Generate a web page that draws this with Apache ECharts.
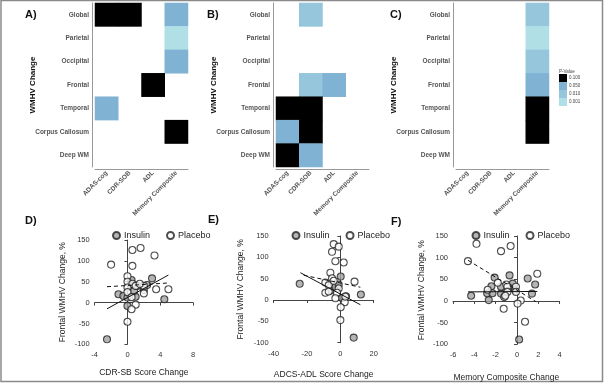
<!DOCTYPE html>
<html>
<head>
<meta charset="utf-8">
<script src="https://cdn.jsdelivr.net/npm/echarts@6/dist/echarts.min.js"></script>
<style>
  html, body { margin: 0; padding: 0; background: #fff; }
  #chart { width: 604px; height: 384px; }
</style>
</head>
<body>
<div id="chart"></div>
<script>
// heatmap categories
const measures = ['ADAS-cog', 'CDR-SOB', 'ADL', 'Memory Composite']
const regions = ['Global', 'Parietal', 'Occipital', 'Frontal', 'Temporal', 'Corpus Callosum', 'Deep WM']
const pLevels = [0.001, 0.010, 0.050, 0.100]

// significant cells per panel: [measure, region, p]
const cellsA = [
  ['ADAS-cog', 'Global', 0.1], ['CDR-SOB', 'Global', 0.1], ['Memory Composite', 'Global', 0.05],
  ['Memory Composite', 'Parietal', 0.001], ['Memory Composite', 'Occipital', 0.05],
  ['ADL', 'Frontal', 0.1], ['ADAS-cog', 'Temporal', 0.05], ['Memory Composite', 'Corpus Callosum', 0.1]
]
const cellsB = [
  ['CDR-SOB', 'Global', 0.01], ['CDR-SOB', 'Frontal', 0.01], ['ADL', 'Frontal', 0.05],
  ['ADAS-cog', 'Temporal', 0.1], ['CDR-SOB', 'Temporal', 0.1],
  ['ADAS-cog', 'Corpus Callosum', 0.05], ['CDR-SOB', 'Corpus Callosum', 0.1],
  ['ADAS-cog', 'Deep WM', 0.1], ['CDR-SOB', 'Deep WM', 0.05]
]
const cellsC = [
  ['Memory Composite', 'Global', 0.01], ['Memory Composite', 'Parietal', 0.001],
  ['Memory Composite', 'Occipital', 0.01], ['Memory Composite', 'Frontal', 0.05],
  ['Memory Composite', 'Temporal', 0.1], ['Memory Composite', 'Corpus Callosum', 0.1]
]

// scatter panels: [score change, frontal WMHV change %]
const cdrInsulin = [[-2.5, -88], [-1.1, 20], [-0.5, 16], [0, 12], [0, -8], [0.5, 54], [0.4, 44], [1, 14],
  [0.8, 28], [1.2, 40], [2, 30], [2.4, 42], [3, 58], [4.5, 8]]
const cdrPlacebo = [[0.6, 126], [1.6, 131], [3.3, 113], [-2, 91], [0.6, 88], [0, 63], [0, 50], [0.6, 45],
  [1, 40], [2, 40], [0, 36], [3.5, 32], [5, 32], [0, 25], [2, 22], [0.5, 13], [1, -5], [0.5, -16], [0, -46], [1.5, 45]]
const cdrFitInsulin = [[-2.5, -15], [5, 66]]
const cdrFitPlacebo = [[-2.5, 38], [5, 47]]

const adlInsulin = [[-24.4, 38], [8, -88], [12.3, 13], [0.2, 55], [-4, 37], [1, 5], [3.4, 9], [-6, 22], [-3, 31], [-1, 36]]
const adlPlacebo = [[-4, 131], [-1, 125], [-5, 113], [-3, 91], [2, 88], [-6, 64], [8.5, 43], [-9, 41], [-5, 51],
  [-7, 35], [-9, 17], [-1, 27], [-2, 17], [-3, 4], [2.6, -5], [0.2, -17], [0, -47], [3, 8], [-7, 20], [-4, 45]]
const adlFitInsulin = [[-24, 64], [12, -11]]
const adlFitPlacebo = [[-22, 58], [12, 30]]

const memInsulin = [[0.2, -89], [-4.3, 12], [-2.65, 2], [-2.1, 54], [-0.7, 59], [1, 52], [1.7, 38], [1.4, 17],
  [-2.8, 18], [-2.4, 34], [-2.3, 18], [-1.5, 17], [-1.2, 9], [-0.4, 40], [-0.7, 30], [-0.2, 26], [-1.5, 33]]
const memPlacebo = [[-3.8, 132], [-0.6, 127], [-1.5, 115], [-4.6, 92], [-1.8, 42], [1.9, 63], [-1, 38], [-0.9, 33],
  [-0.1, 33], [-2.75, 26], [-0.9, 21], [-0.1, 21], [-1.25, -18], [0.35, 1], [0.05, -6], [0.75, -48], [-1.1, 12]]
const memFitInsulin = [[-4.6, 21], [1.9, 22]]
const memFitPlacebo = [[-4.6, 94], [1.8, -2]]

const chart = echarts.init(document.getElementById('chart'))

const tickFont = { fontSize: 6.5, fontWeight: 'bold', color: '#555', fontFamily: 'Liberation Sans' }
const heatLefts = [95, 276, 456]
const scatterGrids = [
  { left: 94.7, top: 240, width: 98.3, height: 104.3 },
  { left: 273.7, top: 236, width: 100, height: 106.7 },
  { left: 453, top: 236, width: 106.7, height: 108.3 }
]

const grids = heatLefts.map(l => ({ left: l, top: 3, width: 93, height: 164 })).concat(scatterGrids)

const xAxes = heatLefts.map((l, i) => ({
  type: 'category', gridIndex: i, data: measures, offset: 2,
  axisLine: { lineStyle: { color: '#999' } },
  axisTick: { alignWithLabel: true, length: 2, lineStyle: { color: '#999' } },
  axisLabel: { ...tickFont, rotate: 45, margin: 3, interval: 0 }
}))
const yAxes = heatLefts.map((l, i) => ({
  type: 'category', gridIndex: i, data: regions, inverse: true, offset: 3,
  name: 'WMHV Change', nameLocation: 'middle', nameGap: 55, nameMoveOverlap: false,
  nameTextStyle: { fontSize: 8, fontWeight: 'bold', color: '#111', fontFamily: 'Liberation Sans' },
  axisLine: { lineStyle: { color: '#999' } },
  axisTick: { alignWithLabel: true, length: 2, lineStyle: { color: '#999' } },
  axisLabel: { ...tickFont, margin: 3, interval: 0 }
}))

const xRanges = [[-4, 8, 4, 'CDR-SB Score Change', 24], [-40, 20, 20, 'ADCS-ADL Score Change', 27], [-6, 4, 2, 'Memory Composite Change', 29]]
const yGaps = [28, 29, 26.5]
xRanges.forEach((r, k) => {
  xAxes.push({
    type: 'value', gridIndex: 3 + k, min: r[0], max: r[1], interval: r[2],
    name: r[3], nameLocation: 'middle', nameGap: r[4], nameMoveOverlap: false,
    nameTextStyle: { fontSize: 8.5, color: '#222', fontFamily: 'Liberation Sans' },
    splitLine: { show: false },
    axisLine: { lineStyle: { color: '#444' } },
    axisTick: { length: 3, lineStyle: { color: '#444' } },
    axisLabel: { fontSize: 7.5, color: '#333', margin: 7 }
  })
  yAxes.push({
    type: 'value', gridIndex: 3 + k, min: -100, max: 150, interval: 50,
    name: 'Frontal WMHV Change, %', nameLocation: 'middle', nameGap: yGaps[k], nameMoveOverlap: false,
    nameTextStyle: { fontSize: 8.5, color: '#222', fontFamily: 'Liberation Sans' },
    splitLine: { show: false },
    axisLine: { show: true, lineStyle: { color: '#444' } },
    axisTick: { show: true, length: 3, lineStyle: { color: '#444' } },
    axisLabel: { fontSize: 7.5, color: '#333', margin: 5 }
  })
})

const series = [cellsA, cellsB, cellsC].map((cells, i) => ({
  type: 'heatmap', xAxisIndex: i, yAxisIndex: i, data: cells
}))

const insulinStyle = { color: '#a3a3a3', borderColor: '#222', borderWidth: 1.1 }
const placeboStyle = { color: '#fff', borderColor: '#222', borderWidth: 1.1 }
const panels = [
  [cdrInsulin, cdrPlacebo, cdrFitInsulin, cdrFitPlacebo],
  [adlInsulin, adlPlacebo, adlFitInsulin, adlFitPlacebo],
  [memInsulin, memPlacebo, memFitInsulin, memFitPlacebo]
]
panels.forEach((p, k) => {
  const ax = { xAxisIndex: 3 + k, yAxisIndex: 3 + k }
  series.push({ name: 'Insulin', type: 'scatter', ...ax, symbolSize: 7, itemStyle: insulinStyle, data: p[0] })
  series.push({ name: 'Placebo', type: 'scatter', ...ax, symbolSize: 7, itemStyle: placeboStyle, data: p[1] })
  series.push({ type: 'line', ...ax, symbol: 'none', lineStyle: { color: '#111', width: 1 }, data: p[2] })
  series.push({ type: 'line', ...ax, symbol: 'none', lineStyle: { color: '#111', width: 1, type: [4, 3] }, data: p[3] })
})

const legendLefts = [107, 286.5, 466.5]
const legends = legendLefts.map(l => ({
  left: l, top: 226, data: ['Insulin', 'Placebo'], icon: 'circle',
  itemWidth: 7, itemHeight: 7, itemGap: 16,
  textStyle: { fontSize: 9, color: '#222', padding: [0, 0, 0, -1] }
}))

const letters = [['A)', 25, 9], ['B)', 207, 9], ['C)', 390, 9], ['D)', 25, 215], ['E)', 208, 214], ['F)', 391, 216]]

const option = {
  animation: false,
  grid: grids,
  xAxis: xAxes,
  yAxis: yAxes,
  legend: legends,
  visualMap: {
    type: 'piecewise', seriesIndex: [0, 1, 2], dimension: 2,
    orient: 'vertical', left: 559, top: 69, padding: 0, align: 'left',
    itemWidth: 8, itemHeight: 8, itemGap: 0, itemSymbol: 'rect',
    text: ['P-Value', ''], textGap: 2, showLabel: true,
    textStyle: { fontSize: 4.5, color: '#444' },
    pieces: pLevels.map((v, i) => ({
      value: v, label: v.toFixed(3),
      color: ['#b0e0e6', '#95c6db', '#7fb2d3', '#000000'][i]
    }))
  },
  graphic: [
    { type: 'rect', shape: { x: 1, y: 0.5, width: 601.5, height: 381 }, style: { fill: 'none', stroke: '#8a8a8a', lineWidth: 1.5 } }
  ].concat(letters.map(t => ({
    type: 'text', left: t[1], top: t[2],
    style: { text: t[0], fontSize: 11, fontWeight: 'bold', fill: '#111', fontFamily: 'Liberation Sans' }
  }))),
  series: series
}

chart.setOption(option)
window.addEventListener('resize', () => {
  chart.resize()
})
</script>
</body>
</html>
